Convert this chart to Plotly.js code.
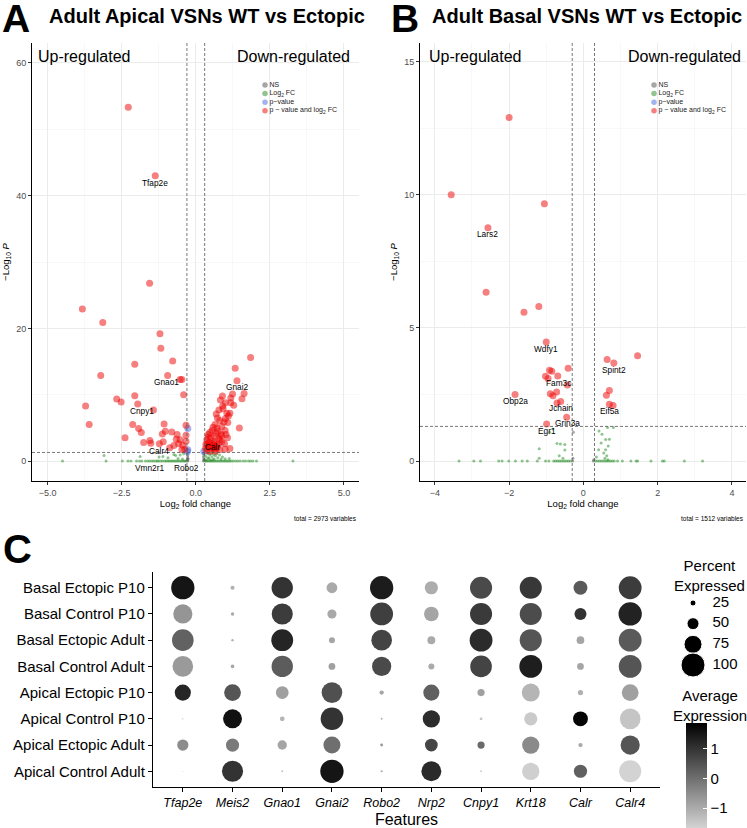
<!DOCTYPE html>
<html>
<head>
<meta charset="utf-8">
<script src="https://cdn.plot.ly/plotly-3.0.1.min.js"></script>
<style>body{margin:0;background:#fff;} #fig{width:747px;height:828px;}</style>
</head>
<body>
<div id="fig"></div>
<script>
// volcano A : adult apical VSNs, WT vs ectopic
var apicalNsX = [-0.27,-0.27,-0.28,-0.27,-0.28,-0.26,0.26,0.27,0.26,0.27,0.26,0.28];
var apicalNsY = [0,0.2,0.5,0.8,1.1,0.35,0,0.3,0.6,0.9,1.2,0.15];

var apicalFcX = [-4.5,-3.03,-2.48,-2.29,-2.19,-2.0,-1.9,-1.82,-1.7,-1.62,-1.55,-1.48,-1.42,-1.35,-1.3,-1.25,-1.18,-1.12,-1.05,-1.0,-0.95,-0.9,-0.85,-0.8,-0.75,-0.7,-0.65,-0.6,-0.55,-0.5,-0.45,-0.4,-0.36,-0.32,
  0.32,0.36,0.4,0.45,0.5,0.55,0.6,0.65,0.7,0.75,0.8,0.85,0.9,0.95,1.0,1.05,1.1,1.15,1.2,1.27,1.35,1.42,1.5,1.6,1.68,1.78,1.85,1.93,2.05,3.28,
  -3.1,-1.88,-1.24,-1.11,-0.94,-0.74,-0.68,-0.53,-0.41,-0.6,-0.45,0.34,0.4,0.45,0.48,0.52,0.55,0.6,0.62,0.66,0.7,0.74,0.8,0.85,0.9,0.99,1.13,0.36,0.42,0.58,0.5];
var apicalFcY = [0,0,0,0,0,0,0,0,0,0,0,0,0,0,0,0,0,0,0,0,0,0,0,0,0,0,0,0,0,0,0,0,0,0,
  0,0,0,0,0,0,0,0,0,0,0,0,0,0,0,0,0,0,0,0,0,0,0,0,0,0,0,0,0,0,
  0.85,0.7,0.6,0.7,0.5,1.0,0.85,0.9,1.1,0.4,0.3,0.7,1.1,0.4,0.9,1.2,0.6,1.0,0.3,0.8,1.1,0.5,0.9,0.3,0.6,0.35,0.4,0.2,0.5,0.2,0.1];

var apicalPX = [-0.27,-0.27,-0.28,0.27];
var apicalPY = [4.9,1.7,1.45,1.5];

var apicalBothX = [-2.28,-1.37,-1.56,-3.83,-3.14,-1.21,-1.18,-0.78,-2.06,-3.21,-0.95,-0.53,-0.47,-0.41,-2.06,-2.67,-2.52,-1.96,-3.72,-1.43,-3.6,-2.13,-1.07,-0.33,-1.93,-1.84,-1.03,-0.81,-1.13,-0.63,-0.33,-2.39,-0.66,-0.53,-1.55,-0.33,-1.76,-1.10,-1.23,-1.52,-0.74,-0.44,-0.47,-0.37,-0.88,-0.58,
  1.85,1.33,1.39,1.63,1.56,1.18,1.24,0.83,0.90,0.91,1.00,1.18,1.28,0.92,0.78,1.05,1.15,1.10,0.69,1.00,0.73,0.81,1.08,0.95,0.65,0.88,1.47,0.58,0.72,0.55,0.75,0.99,0.47,0.68,0.85,0.42,1.02,0.63,0.87,0.41,0.50,1.07,0.78,0.37,0.82,0.60,0.88,0.45,0.62,0.38,0.55,0.97,0.34,0.76,0.56,0.70,0.42,0.59,0.72,0.33,0.52,1.15,0.64,0.99,0.81,0.37,0.48,0.66];
var apicalBothY = [53.3,43.0,26.8,22.9,20.9,19.2,17.0,15.1,14.6,12.9,12.9,12.3,12.3,10.0,9.85,9.35,8.9,8.6,8.3,7.7,5.5,5.5,5.6,5.4,4.9,4.3,4.5,4.4,4.1,4.0,3.9,3.5,3.3,3.2,3.1,3.0,2.8,2.9,2.6,2.7,2.35,2.4,1.7,1.8,2.0,2.6,
  15.6,14.0,12.1,10.2,9.4,9.5,10.1,9.2,9.8,8.3,8.8,8.8,8.4,7.9,7.7,7.2,7.2,6.8,7.1,6.4,6.5,6.1,5.8,5.9,5.5,5.2,5.0,5.1,5.0,4.6,4.5,4.6,4.3,4.2,4.1,4.0,4.0,3.7,3.8,3.6,3.5,3.5,3.4,3.2,3.2,3.0,2.9,2.8,2.7,2.6,2.6,2.6,2.5,2.5,2.3,2.3,2.2,2.0,2.0,1.9,1.9,1.9,1.8,1.8,1.7,1.6,1.5,1.5];

var apicalLabels = ['Tfap2e','Gnao1','Gnai2','Cnpy1','Calr4','Vmn2r1','Robo2','Calr'];
var apicalLabelX = [-1.37,-0.98,1.40,-1.82,-1.23,-1.55,-0.33,0.55];
var apicalLabelY = [41.9,11.9,11.1,7.6,1.55,-1.1,-1.1,2.1];

// volcano B : adult basal VSNs, WT vs ectopic
var basalNsX = [-0.29,-0.28,-0.27,0.27,0.28];
var basalNsY = [0,0.1,1.08,0,0.05];

var basalFcX = [-3.35,-2.95,-2.77,-2.28,-2.19,-2.01,-1.83,-1.65,-1.51,-1.24,-1.02,-0.93,-0.8,-0.75,-0.7,-0.65,-0.6,-0.55,-0.5,-0.45,-0.4,-0.35,
  0.33,0.38,0.43,0.48,0.53,0.58,0.63,0.68,0.73,0.78,0.83,0.92,1.05,1.28,1.42,1.46,1.82,2.13,2.18,2.72,3.21,
  -1.19,-1.19,-0.71,-0.62,-0.5,-0.5,-0.65,-0.55,-0.91,-0.82,0.42,0.5,0.65,0.81,0.6,0.7,0.41,0.6,0.67,0.63,0.58,0.66,0.48,0.55,0.35];
var basalFcY = [0,0,0,0,0,0,0,0,0,0,0,0,0,0,0,0,0,0,0,0,0,0,
  0,0,0,0,0,0,0,0,0,0,0,0,0,0,0,0,0,0,0,0,0,
  0.46,0.1,0.66,0.64,0.62,0.41,0.2,0.1,1.08,1.2,1.13,1.01,1.26,1.26,0.81,0.82,0.42,0.42,0.56,0.2,0.1,0.05,0.68,0.3,0.15];

var basalPX = [];
var basalPY = [];

var basalBothX = [-2.0,-3.56,-1.05,-2.57,-2.62,-1.60,-1.20,-1.0,0.64,0.82,1.46,-0.41,-0.91,-0.85,-1.02,-0.95,-0.69,-0.43,0.70,0.62,-1.84,-0.89,-0.82,-0.72,-0.61,-0.71,0.70,0.80,-0.45,-0.99];
var basalBothY = [12.9,10.0,9.66,8.76,6.34,5.59,5.80,4.47,3.81,3.68,3.95,3.48,3.41,3.37,3.18,3.1,3.19,2.86,2.65,2.47,2.5,2.53,2.45,2.59,2.24,2.18,2.13,2.09,1.64,1.39];

var basalLabels = ['Lars2','Wdfy1','Spint2','Fam3c','Obp2a','Jchain','Eif5a','Grin3a','Egr1'];
var basalLabelX = [-2.57,-1.0,0.83,-0.68,-1.84,-0.61,0.71,-0.44,-0.99];
var basalLabelY = [8.53,4.22,3.43,2.93,2.26,2.0,1.89,1.41,1.14];

var volcanoLegend = ['NS','Log<sub>2</sub> FC','p\u2212value','p \u2212 value and log<sub>2</sub> FC'];
var fcCut = 0.3;
var pCut = 1.3;

// dot plot C
var genes = ['Tfap2e','Meis2','Gnao1','Gnai2','Robo2','Nrp2','Cnpy1','Krt18','Calr','Calr4'];
var groups = ['Basal Ectopic P10','Basal Control P10','Basal Ectopic Adult','Basal Control Adult',
  'Apical Ectopic P10','Apical Control P10','Apical Ectopic Adult','Apical Control Adult'];
var pctExpressed = [
  [97,17,89,45,97,55,92,92,58,95],
  [80,14,88,38,95,61,92,92,50,97],
  [90,10,91,25,86,33,95,92,32,95],
  [86,15,89,28,80,25,90,95,28,95],
  [67,70,53,86,18,67,30,75,22,70],
  [5,79,20,94,8,72,12,55,62,86],
  [47,55,39,71,12,53,30,72,18,80],
  [4,88,8,97,9,83,8,72,55,92]
];
var avgExpression = [
  [1.52,-1.08,1.01,-0.97,1.40,-1.03,0.63,0.93,0.36,0.86],
  [-0.63,-0.95,0.86,-0.95,0.81,-0.90,0.90,0.59,1.01,1.30],
  [0.23,-1.08,1.25,-0.90,0.73,-0.98,1.15,0.44,-0.90,0.36],
  [-0.71,-0.90,0.33,-0.81,0.63,-0.98,0.73,1.37,-0.90,0.44],
  [1.23,0.44,-0.81,0.53,-0.90,0.26,-0.81,-1.17,-1.08,-0.81],
  [-1.17,1.58,-1.17,1.01,-1.08,1.13,-1.44,-1.52,1.79,-1.44],
  [-0.48,-0.18,-0.90,0.0,-0.70,0.71,0.09,-0.45,-0.98,0.44],
  [-1.49,1.01,-1.35,1.52,-0.98,1.17,-1.55,-1.60,0.26,-1.67]
];
var legendPct = [25,50,75,100];
var colorTicks = [-1,0,1];

var FONT = 'Arial, "Liberation Sans", Helvetica, sans-serif';
var W = 747, H = 828;
function px(x){ return x / W; }
function py(y){ return 1 - y / H; }

var catColors = ['rgba(77,77,77,0.5)','rgba(34,139,34,0.5)','rgba(65,105,225,0.5)','rgba(238,0,0,0.5)'];
var catSizes = [3,3,7,7];

function volcanoTraces(sets, xa, ya){
  return sets.map(function(s, i){
    return {x: s[0], y: s[1], xaxis: xa, yaxis: ya, type: 'scatter', mode: 'markers',
      marker: {color: catColors[i], size: catSizes[i], line: {width: 0}},
      hoverinfo: 'skip', showlegend: false};
  });
}

var data = [];
data = data.concat(volcanoTraces([[apicalNsX,apicalNsY],[apicalFcX,apicalFcY],[apicalPX,apicalPY],[apicalBothX,apicalBothY]], 'x', 'y'));
data = data.concat(volcanoTraces([[basalNsX,basalNsY],[basalFcX,basalFcY],[basalPX,basalPY],[basalBothX,basalBothY]], 'x2', 'y2'));

// dot plot trace
var dotX = [], dotY = [], dotS = [], dotC = [];
groups.forEach(function(g, r){
  genes.forEach(function(gene, c){
    dotX.push(gene); dotY.push(g);
    dotS.push(pctExpressed[r][c]); dotC.push(avgExpression[r][c]);
  });
});
var sizeRef = 1 / 0.24;
data.push({x: dotX, y: dotY, xaxis: 'x3', yaxis: 'y3', type: 'scatter', mode: 'markers', showlegend: false,
  marker: {size: dotS, sizemode: 'diameter', sizeref: sizeRef, color: dotC, opacity: 1, line: {width: 0},
    colorscale: [[0,'#D3D3D3'],[1,'#000000']], cmin: -1.67, cmax: 1.87,
    colorbar: {x: px(686), xanchor: 'left', y: py(723), yanchor: 'top', len: 105, lenmode: 'pixels',
      thickness: 21, xpad: 0, ypad: 0, outlinewidth: 0, tickvals: colorTicks,
      ticks: 'inside', ticklen: 4, tickcolor: 'white', tickfont: {family: FONT, size: 15, color: '#000'}}}});

// size legend
data.push({x: legendPct.map(function(){return 0;}), y: legendPct, xaxis: 'x4', yaxis: 'y4', type: 'scatter', mode: 'markers',
  showlegend: false, cliponaxis: false, marker: {size: legendPct, sizemode: 'diameter', sizeref: sizeRef, color: '#000', opacity: 1}});
data.push({x: legendPct.map(function(){return 1.5;}), y: legendPct, xaxis: 'x4', yaxis: 'y4', type: 'scatter', mode: 'text',
  showlegend: false, cliponaxis: false, text: legendPct.map(String), textposition: 'middle right',
  textfont: {family: FONT, size: 15, color: '#000'}});

// volcano legends
function volcanoLegendTrace(xa, ya){
  return {x: volcanoLegend.map(function(){return 0;}), y: volcanoLegend, xaxis: xa, yaxis: ya, type: 'scatter',
    mode: 'markers+text', showlegend: false, cliponaxis: false, text: volcanoLegend, textposition: 'middle right',
    textfont: {family: FONT, size: 7, color: '#222'},
    marker: {size: 5.5, color: catColors}};
}
data.push(volcanoLegendTrace('x5','y5'));
data.push(volcanoLegendTrace('x6','y6'));

var gridMaj = '#ebebeb', gridMin = '#f3f3f3';
function volcAxis(dom, rng, dtick, minorDtick, fmt){
  return {domain: dom, range: rng, tick0: 0, dtick: dtick, tickformat: fmt,
    showgrid: true, gridcolor: gridMaj, gridwidth: 1, zeroline: false,
    minor: {dtick: minorDtick, showgrid: true, gridcolor: gridMin, gridwidth: 0.6},
    showline: true, linecolor: '#000', linewidth: 1, ticks: 'outside', ticklen: 3, tickcolor: '#333',
    tickfont: {family: FONT, size: 9, color: '#4d4d4d'}};
}

var xA = volcAxis([px(32), px(359)], [-5.53, 5.51], 2.5, 1.25, '.1f');
xA.title = {text: 'Log<sub>2</sub> fold change', font: {family: FONT, size: 9.5, color: '#000'}, standoff: 2};
var yA = volcAxis([py(481), py(43)], [-3, 63], 20, 10, 'd');
yA.title = {text: '\u2212Log<sub>10</sub> <i>P</i>', font: {family: FONT, size: 9.5, color: '#000'}, standoff: 4};
var xB = volcAxis([px(420), px(746)], [-4.4, 4.38], 2, 1, 'd');
xB.title = {text: 'Log<sub>2</sub> fold change', font: {family: FONT, size: 9.5, color: '#000'}, standoff: 2};
xB.anchor = 'y2';
var yB = volcAxis([py(481), py(43)], [-0.75, 15.7], 5, 2.5, '');
yB.title = {text: '\u2212Log<sub>10</sub> <i>P</i>', font: {family: FONT, size: 9.5, color: '#000'}, standoff: 4};
yB.anchor = 'x2';

var hidden = {visible: false, fixedrange: true};

var shapes = [];
[['x','y'],['x2','y2']].forEach(function(ax){
  [-fcCut, fcCut].forEach(function(v){
    shapes.push({type: 'line', xref: ax[0], yref: ax[1] + ' domain', x0: v, x1: v, y0: 0, y1: 1,
      line: {color: '#555', width: 0.8, dash: '3px,2px'}});
  });
  shapes.push({type: 'line', xref: ax[0] + ' domain', yref: ax[1], x0: 0, x1: 1, y0: pCut, y1: pCut,
    line: {color: '#555', width: 0.8, dash: '3px,2px'}});
});

var ann = [];
function txt(t, x, y, size, opts){
  var a = {text: t, x: x, y: y, xref: 'paper', yref: 'paper', showarrow: false,
    font: {family: FONT, size: size, color: '#000'}, xanchor: 'left', yanchor: 'middle'};
  for (var k in opts) a[k] = opts[k];
  ann.push(a);
}
txt('<b>A</b>', px(0), py(19), 39);
txt('<b>Adult Apical VSNs WT vs Ectopic</b>', px(47), py(16), 20);
txt('<b>B</b>', px(389), py(19), 39);
txt('<b>Adult Basal VSNs WT vs Ectopic</b>', px(430), py(16), 20);
txt('<b>C</b>', px(1), py(549), 40);
txt('Up-regulated', px(36), py(57), 16);
txt('Down-regulated', px(352), py(57), 16, {xanchor: 'right'});
txt('Up-regulated', px(427), py(57), 16);
txt('Down-regulated', px(743), py(57), 16, {xanchor: 'right'});
txt('total = 2973 variables', px(359), py(518), 6.5, {xanchor: 'right'});
txt('total = 1512 variables', px(746), py(518), 6.5, {xanchor: 'right'});
txt('Percent<br>Expressed', px(709), py(575), 15, {xanchor: 'center'});
txt('Average<br>Expression', px(710), py(705), 15, {xanchor: 'center'});

apicalLabels.forEach(function(l, i){
  ann.push({text: l, x: apicalLabelX[i], y: apicalLabelY[i], xref: 'x', yref: 'y', showarrow: false,
    font: {family: FONT, size: 8.3, color: '#000'}});
});
basalLabels.forEach(function(l, i){
  ann.push({text: l, x: basalLabelX[i], y: basalLabelY[i], xref: 'x2', yref: 'y2', showarrow: false,
    font: {family: FONT, size: 8.3, color: '#000'}});
});

var layout = {
  width: W, height: H, margin: {l: 0, r: 0, t: 0, b: 0},
  paper_bgcolor: '#fff', plot_bgcolor: 'rgba(0,0,0,0)', showlegend: false,
  font: {family: FONT},
  xaxis: xA, yaxis: yA, xaxis2: xB, yaxis2: yB,
  xaxis3: {domain: [px(153), px(660)], anchor: 'y3', type: 'category', categoryarray: genes, categoryorder: 'array',
    range: [-0.6, 9.6], showgrid: false, zeroline: false, showline: true, linecolor: '#000', linewidth: 1.2,
    ticks: 'outside', ticklen: 4, tickcolor: '#000',
    tickfont: {family: FONT, size: 12.5, color: '#000', style: 'italic'},
    title: {text: 'Features', font: {family: FONT, size: 16, color: '#000'}}},
  yaxis3: {domain: [py(787), py(572)], anchor: 'x3', type: 'category', categoryarray: groups.slice().reverse(), categoryorder: 'array',
    range: [-0.6, 7.6], showgrid: false, zeroline: false, showline: true, linecolor: '#000', linewidth: 1.2,
    ticks: 'outside', ticklen: 4, tickcolor: '#000',
    tickfont: {family: FONT, size: 15, color: '#000'}},
  xaxis4: Object.assign({domain: [px(680), px(725)], anchor: 'y4', range: [-1, 2.46]}, hidden),
  yaxis4: Object.assign({domain: [py(678), py(590)], anchor: 'x4', range: [115.7, 9.3]}, hidden),
  xaxis5: Object.assign({domain: [px(255), px(360)], anchor: 'y5', range: [-1, 9.5]}, hidden),
  yaxis5: Object.assign({domain: [py(115), py(80.7)], anchor: 'x5', type: 'category', categoryarray: volcanoLegend, range: [3.5, -0.5]}, hidden),
  xaxis6: Object.assign({domain: [px(644), px(746)], anchor: 'y6', range: [-1, 9.2]}, hidden),
  yaxis6: Object.assign({domain: [py(115), py(80.7)], anchor: 'x6', type: 'category', categoryarray: volcanoLegend, range: [3.5, -0.5]}, hidden),
  shapes: shapes,
  annotations: ann
};

Plotly.newPlot('fig', data, layout, {displayModeBar: false, staticPlot: true});
</script>
</body>
</html>
